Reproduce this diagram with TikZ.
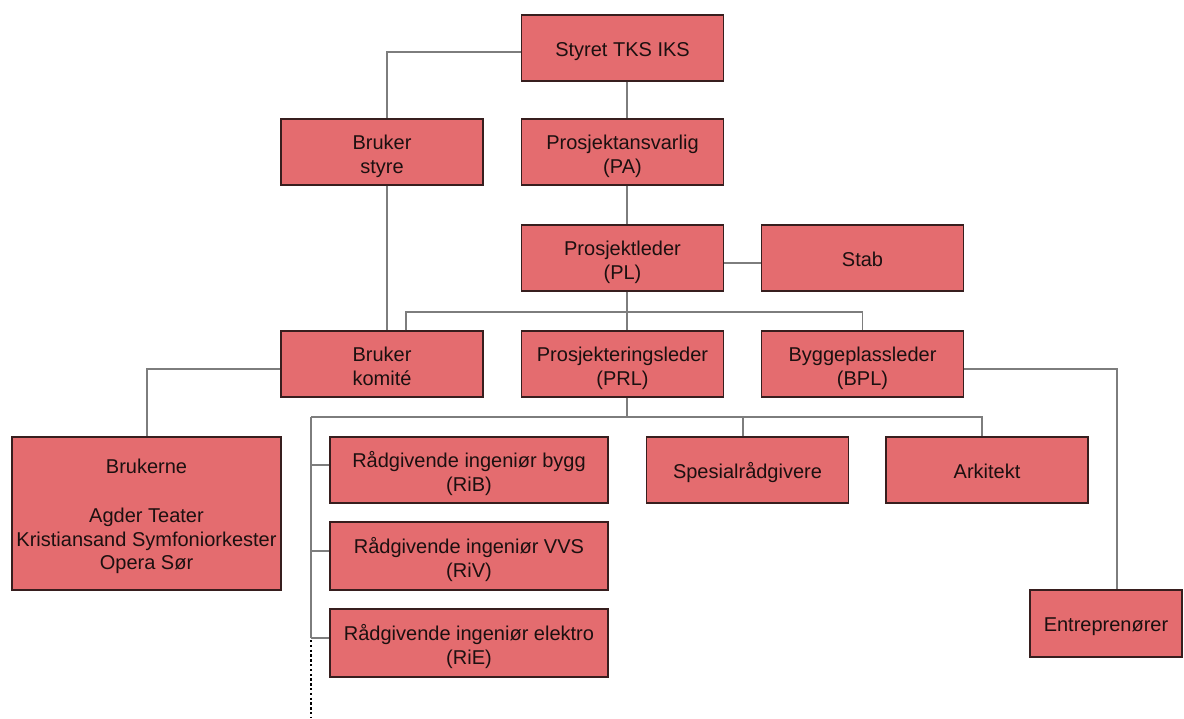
\documentclass[tikz,border=0pt]{standalone}
\usepackage{fontspec}
\setmainfont{Liberation Sans}
\definecolor{boxfill}{RGB}{228,108,111}
\definecolor{boxline}{RGB}{55,30,30}
\definecolor{linkc}{RGB}{125,125,125}
\definecolor{txt}{RGB}{28,16,16}
\tikzset{
  orgbox/.style={draw=boxline, fill=boxfill, line width=1.1pt, inner sep=0pt,
    minimum width=202pt, minimum height=66pt, align=center, text=txt,
    font=\fontsize{20}{24}\selectfont,
    execute at begin node={\rule{0pt}{23pt}},
    execute at end node={\rule[-7pt]{0pt}{0pt}}},
  twoline/.style={execute at begin node={\rule{0pt}{49pt}}},
  manyline/.style={execute at begin node={\rule{0pt}{119pt}}},
  link/.style={draw=linkc, line width=1.5pt},
  dotlink/.style={draw=black, line width=2.8pt, dash pattern=on 2.4pt off 2.4pt}
}
\begin{document}
\begin{tikzpicture}[x=1pt,y=-1pt]
\useasboundingbox (0,0) rectangle (1184,718);

% boxes
\node[orgbox] (styret) at (622.5,48) {Styret TKS IKS};
\node[orgbox, twoline] (pa) at (622.5,152) {Prosjektansvarlig\\(PA)};
\node[orgbox, twoline] (bstyre) at (382,152) {Bruker\\styre};
\node[orgbox, twoline] (pl) at (622.5,258) {Prosjektleder\\(PL)};
\node[orgbox] (stab) at (862.5,258) {Stab};
\node[orgbox, twoline] (bkomite) at (382,364) {Bruker\\komité};
\node[orgbox, twoline] (prl) at (622.5,364) {Prosjekteringsleder\\(PRL)};
\node[orgbox, twoline] (bpl) at (862.5,364) {Byggeplassleder\\(BPL)};
\node[orgbox, manyline, minimum width=269pt, minimum height=153pt,
  font=\fontsize{20}{23.3}\selectfont] (brukerne) at (146.5,513.5)
  {Brukerne\\[25.7pt]Agder Teater\\Kristiansand Symfoniorkester\\Opera Sør};
\node[orgbox, twoline, minimum width=278pt] (rib) at (469,470) {Rådgivende ingeniør bygg\\(RiB)};
\node[orgbox, twoline, minimum width=278pt, minimum height=68pt] (riv) at (469,556) {Rådgivende ingeniør VVS\\(RiV)};
\node[orgbox, twoline, minimum width=278pt, minimum height=68pt] (rie) at (469,643) {Rådgivende ingeniør elektro\\(RiE)};
\node[orgbox] (spes) at (747.5,470) {Spesialrådgivere};
\node[orgbox] (ark) at (987,470) {Arkitekt};
\node[orgbox, minimum width=152pt, minimum height=67pt] (entr) at (1106,623.5) {Entreprenører};

% guide coordinates for the connector runs
\coordinate (spine) at (627,0);
\coordinate (ustyre) at (387,0);
\coordinate (ukomite) at (406,0);
\coordinate (row1) at (0,312);
\coordinate (row2) at (0,417);
\coordinate (left) at (311,0);
\coordinate (spesx) at (743,0);
\coordinate (arkx) at (982,0);
\coordinate (entrx) at (1117,0);
\coordinate (brux) at (147,0);
\coordinate (dotend) at (311,718);

% top chain
\draw[link] (styret.south -| spine) -- (pa.north -| spine);
\draw[link] (pa.south -| spine) -- (pl.north -| spine);
\draw[link] ([yshift=-4pt]styret.west) -| (bstyre.north -| ustyre);
\draw[link] (bstyre.south -| ustyre) -- (bkomite.north -| ustyre);
\draw[link] ([yshift=-5pt]pl.east) -- ([yshift=-5pt]stab.west);

% project leader level
\draw[link] (pl.south -| spine) -- (prl.north -| spine);
\draw[link] (bkomite.north -| ukomite) |- (row1 -| bpl.north) -- (bpl.north);

% user side
\draw[link] ([yshift=-5pt]bkomite.west) -| (brukerne.north -| brux);

% contractors
\draw[link] ([yshift=-5pt]bpl.east) -| (entr.north -| entrx);

% design group
\draw[link] (prl.south -| spine) -- (row2 -| spine);
\draw[link] (row2 -| left) -- (row2 -| arkx) -- (ark.north -| arkx);
\draw[link] (row2 -| spesx) -- (spes.north -| spesx);
\draw[link] (row2 -| left) -- ([yshift=5pt]rie.west -| left);
\draw[link] ([yshift=5pt]rib.west -| left) -- ([yshift=5pt]rib.west);
\draw[link] ([yshift=5pt]riv.west -| left) -- ([yshift=5pt]riv.west);
\draw[link] ([yshift=5pt]rie.west -| left) -- ([yshift=5pt]rie.west);
\draw[dotlink] ([yshift=3pt]rie.west -| left) -- (dotend);
\end{tikzpicture}
\end{document}
